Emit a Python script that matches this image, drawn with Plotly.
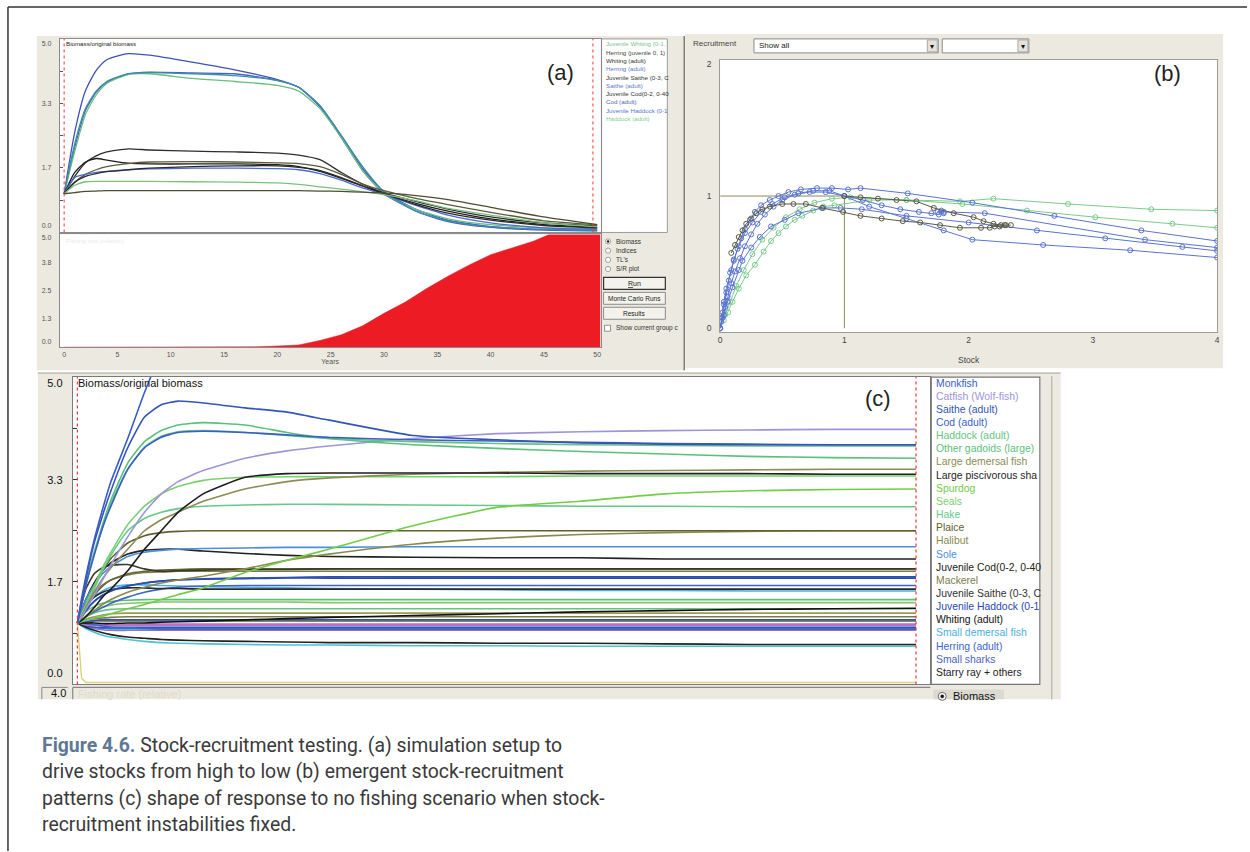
import plotly.graph_objects as go

W, H = 1250, 852
UI = "Liberation Sans, Arial, sans-serif"

# ================= DATA =================
# ---- panel (a): biomass / original biomass over 50 simulated years ----
a_years = [0, 1, 2, 3, 4, 6, 8, 12, 16, 20, 22, 24, 26, 28, 30, 33, 36, 40, 45, 50]
a_blue_top   = [1.0, 2.6, 3.66, 4.18, 4.46, 4.62, 4.58, 4.4, 4.2, 3.95, 3.75, 3.25, 2.5, 1.65, 1.05, 0.6, 0.32, 0.15, 0.08, 0.05]
a_blue_mid   = [1.0, 2.2, 3.15, 3.62, 3.88, 4.09, 4.14, 4.12, 4.1, 3.93, 3.75, 3.25, 2.45, 1.6, 1.0, 0.55, 0.28, 0.13, 0.06, 0.04]
a_green_mid  = [1.0, 2.1, 3.05, 3.55, 3.85, 4.08, 4.1, 3.98, 3.9, 3.8, 3.65, 3.2, 2.45, 1.6, 1.0, 0.6, 0.35, 0.2, 0.12, 0.1]
a_teal_mid   = [1.0, 2.3, 3.2, 3.65, 3.9, 4.1, 4.13, 4.1, 4.05, 3.92, 3.75, 3.28, 2.5, 1.7, 1.05, 0.55, 0.3, 0.15, 0.08, 0.06]
a_black_1    = [1.0, 1.45, 1.8, 1.98, 2.08, 2.16, 2.13, 2.1, 2.08, 2.05, 2.0, 1.88, 1.55, 1.25, 1.02, 0.8, 0.6, 0.4, 0.25, 0.17]
a_black_2    = [1.0, 1.55, 1.82, 1.91, 1.87, 1.79, 1.77, 1.77, 1.77, 1.75, 1.7, 1.58, 1.4, 1.2, 1.0, 0.75, 0.55, 0.35, 0.2, 0.13]
a_olive_1    = [1.0, 1.3, 1.5, 1.62, 1.7, 1.78, 1.82, 1.83, 1.82, 1.8, 1.78, 1.7, 1.5, 1.25, 1.08, 0.88, 0.72, 0.52, 0.3, 0.2]
a_blue_low   = [1.0, 1.42, 1.5, 1.55, 1.58, 1.62, 1.64, 1.66, 1.66, 1.65, 1.62, 1.52, 1.35, 1.15, 0.98, 0.7, 0.45, 0.25, 0.12, 0.08]
a_black_3    = [1.0, 1.3, 1.45, 1.52, 1.57, 1.62, 1.66, 1.7, 1.72, 1.72, 1.68, 1.6, 1.42, 1.2, 1.0, 0.72, 0.5, 0.32, 0.18, 0.12]
a_green_low  = [1.0, 1.22, 1.31, 1.32, 1.32, 1.32, 1.32, 1.31, 1.3, 1.28, 1.24, 1.18, 1.12, 1.05, 0.98, 0.82, 0.62, 0.45, 0.25, 0.15]
a_olive_flat = [1.0, 1.03, 1.06, 1.07, 1.08, 1.08, 1.08, 1.08, 1.08, 1.08, 1.08, 1.07, 1.06, 1.04, 1.02, 0.95, 0.85, 0.65, 0.4, 0.2]
a_fish_years = [0, 17, 18, 20, 22, 24, 26, 28, 30, 32, 34, 36, 38, 40, 42, 44, 45.5, 50.3]
a_fish_rate  = [0, 0, 0.02, 0.05, 0.1, 0.3, 0.55, 0.95, 1.5, 2.0, 2.6, 3.15, 3.65, 4.1, 4.4, 4.7, 5.0, 5.0]
a_marker_years = [0, 49.6]
a_legend = ["Juvenile Whiting (0-1,", "Herring (juvenile 0, 1)", "Whiting (adult)", "Herring (adult)",
            "Juvenile Saithe (0-3, C", "Saithe (adult)", "Juvenile Cod(0-2, 0-40", "Cod (adult)",
            "Juvenile Haddock (0-1", "Haddock (adult)"]
a_y_ticks = ["0.0", "1.7", "3.3", "5.0"]
a_f_ticks = ["0.0", "1.3", "2.5", "3.8", "5.0"]
a_x_ticks = [0, 5, 10, 15, 20, 25, 30, 35, 40, 45, 50]

# ---- panel (b): stock vs recruitment ----
b_stock_1 = [0, 0.01, 0.02, 0.03, 0.05, 0.07, 0.09, 0.11, 0.14, 0.17, 0.2, 0.24, 0.28, 0.33, 0.4, 0.47, 0.55, 0.65, 0.78, 0.9, 1.03, 1.13, 1.51, 2.03, 2.69, 3.39, 4.0]
b_rec_1   = [0, 0.05, 0.12, 0.18, 0.27, 0.36, 0.44, 0.51, 0.6, 0.68, 0.75, 0.82, 0.88, 0.93, 0.97, 1.0, 1.03, 1.05, 1.06, 1.06, 1.05, 1.06, 1.02, 0.95, 0.85, 0.74, 0.66]
b_stock_2 = [0, 0.02, 0.04, 0.06, 0.09, 0.12, 0.16, 0.2, 0.25, 0.3, 0.36, 0.43, 0.5, 0.6, 0.72, 0.85, 1.0, 1.15, 1.3, 1.45, 1.6, 1.7, 1.76, 1.8, 1.78, 1.75, 1.8, 2.13, 3.42, 4.0]
b_rec_2   = [0, 0.08, 0.16, 0.24, 0.34, 0.43, 0.53, 0.62, 0.71, 0.79, 0.86, 0.92, 0.97, 1.01, 1.03, 1.03, 1.0, 0.97, 0.93, 0.9, 0.88, 0.87, 0.86, 0.87, 0.89, 0.88, 0.88, 0.87, 0.67, 0.61]
b_stock_3 = [0, 0.03, 0.06, 0.1, 0.15, 0.18, 0.25, 0.32, 0.41, 0.52, 0.63, 0.83, 0.97, 1.14, 1.5, 2.0, 2.55, 3.1, 3.72, 4.0]
b_rec_3   = [0, 0.1, 0.2, 0.31, 0.44, 0.51, 0.61, 0.69, 0.77, 0.82, 0.87, 0.91, 0.91, 0.9, 0.85, 0.8, 0.74, 0.68, 0.615, 0.585]
b_stock_4 = [0, 0.01, 0.03, 0.05, 0.08, 0.11, 0.15, 0.2, 0.26, 0.33, 0.42, 0.52, 0.63, 0.75, 0.88, 1.0, 1.2, 1.5, 1.8, 2.03, 2.6, 3.3, 4.0]
b_rec_4   = [0, 0.08, 0.2, 0.3, 0.42, 0.52, 0.62, 0.72, 0.8, 0.88, 0.94, 0.99, 1.02, 1.04, 1.04, 1.0, 0.92, 0.83, 0.74, 0.67, 0.63, 0.59, 0.535]
b_stock_5 = [0, 0.03, 0.065, 0.1, 0.15, 0.21, 0.28, 0.35, 0.41, 0.47, 0.53, 0.6, 0.66, 0.75, 0.83, 0.92, 1.2, 1.5, 1.93, 2.2, 2.8, 3.47, 4.0]
b_rec_5   = [0, 0.06, 0.12, 0.2, 0.3, 0.4, 0.48, 0.58, 0.66, 0.72, 0.77, 0.82, 0.85, 0.89, 0.92, 0.93, 0.97, 0.97, 0.96, 0.98, 0.94, 0.9, 0.89]
b_stock_6 = [0, 0.04, 0.08, 0.13, 0.19, 0.26, 0.34, 0.43, 0.53, 0.64, 0.76, 0.9, 1.05, 1.5, 1.95, 2.47, 3.02, 3.64, 4.0]
b_rec_6   = [0, 0.1, 0.2, 0.32, 0.44, 0.56, 0.67, 0.76, 0.84, 0.9, 0.95, 0.98, 0.99, 0.97, 0.94, 0.89, 0.84, 0.79, 0.76]
b_stock_7 = [0.09, 0.12, 0.15, 0.18, 0.21, 0.25, 0.29, 0.34, 0.4, 0.5, 0.59, 0.69, 0.82, 0.99, 1.13, 1.3, 1.47, 1.61, 1.77, 1.93, 2.1, 2.17, 2.21, 2.25, 2.29, 2.34]
b_rec_7   = [0.57, 0.63, 0.69, 0.74, 0.79, 0.83, 0.87, 0.9, 0.92, 0.94, 0.94, 0.94, 0.91, 0.88, 0.85, 0.83, 0.81, 0.8, 0.78, 0.76, 0.76, 0.76, 0.77, 0.77, 0.78, 0.78]
b_stock_8 = [1.0, 1.13, 1.27, 1.42, 1.58, 1.72, 1.88, 2.04, 2.12, 2.2, 2.26, 2.3]
b_rec_8   = [1.0, 0.99, 0.98, 0.97, 0.96, 0.91, 0.87, 0.84, 0.81, 0.79, 0.78, 0.78]
b_ref_point = [1, 1]   # stock, recruitment of the reference cross-hair
b_x_ticks = [0, 1, 2, 3, 4]
b_y_ticks = [0, 1, 2]

# ---- panel (c): no-fishing run, 100 years ----
c_years = [0, 0.5, 1, 2, 3, 4, 6, 8, 10, 12, 15, 20, 25, 30, 40, 50, 60, 70, 80, 90, 100]
c_monkfish    = [1, 1.4, 1.75, 2.35, 2.85, 3.3, 4.0, 4.75, 5.4, 6.0, 6.8, 7.8, 8.5, 9, 9, 9, 9, 9, 9, 9, 9]
c_catfish     = [1, 1.1, 1.22, 1.45, 1.7, 1.95, 2.4, 2.8, 3.1, 3.3, 3.48, 3.68, 3.8, 3.88, 4.0, 4.08, 4.11, 4.13, 4.14, 4.15, 4.15]
c_saithe      = [1, 1.35, 1.7, 2.3, 2.75, 3.15, 3.85, 4.35, 4.55, 4.61, 4.58, 4.5, 4.43, 4.3, 4.05, 3.98, 3.93, 3.91, 3.9, 3.9, 3.9]
c_cod         = [1, 1.3, 1.6, 2.1, 2.55, 2.9, 3.5, 3.85, 4.02, 4.1, 4.12, 4.1, 4.06, 4.02, 3.98, 3.96, 3.94, 3.92, 3.91, 3.9, 3.9]
c_haddock     = [1, 1.32, 1.62, 2.12, 2.55, 2.95, 3.5, 3.86, 4.04, 4.11, 4.13, 4.1, 4.05, 4.0, 3.95, 3.92, 3.9, 3.89, 3.88, 3.88, 3.88]
c_othergad    = [1, 1.35, 1.65, 2.15, 2.6, 3.0, 3.6, 3.95, 4.13, 4.22, 4.26, 4.22, 4.1, 4.0, 3.9, 3.84, 3.79, 3.75, 3.71, 3.69, 3.68]
c_largedem    = [1, 1.12, 1.25, 1.5, 1.72, 1.9, 2.2, 2.5, 2.68, 2.8, 2.98, 3.18, 3.3, 3.36, 3.42, 3.45, 3.47, 3.48, 3.49, 3.5, 3.5]
c_largepisc   = [1, 1.04, 1.1, 1.25, 1.42, 1.55, 1.85, 2.2, 2.5, 2.8, 3.1, 3.37, 3.43, 3.44, 3.44, 3.44, 3.43, 3.43, 3.43, 3.42, 3.42]
c_spurdog     = [1, 1.02, 1.04, 1.08, 1.11, 1.15, 1.23, 1.3, 1.38, 1.46, 1.57, 1.82, 2.02, 2.2, 2.58, 2.88, 2.98, 3.1, 3.15, 3.17, 3.18]
c_seals       = [1, 1.15, 1.3, 1.6, 1.9, 2.15, 2.6, 2.9, 3.1, 3.22, 3.32, 3.37, 3.38, 3.38, 3.38, 3.38, 3.39, 3.39, 3.39, 3.39, 3.39]
c_hake        = [1, 1.12, 1.25, 1.55, 1.85, 2.1, 2.5, 2.7, 2.8, 2.86, 2.9, 2.92, 2.93, 2.93, 2.92, 2.91, 2.9, 2.9, 2.89, 2.89, 2.89]
c_plaice      = [1, 1.15, 1.3, 1.6, 1.85, 2.05, 2.3, 2.42, 2.47, 2.49, 2.5, 2.5, 2.5, 2.5, 2.5, 2.5, 2.5, 2.5, 2.5, 2.5, 2.5]
c_halibut     = [1, 1.05, 1.1, 1.2, 1.3, 1.38, 1.5, 1.58, 1.65, 1.7, 1.76, 1.88, 2.02, 2.12, 2.28, 2.38, 2.44, 2.47, 2.49, 2.5, 2.5]
c_sole        = [1, 1.2, 1.38, 1.62, 1.8, 1.92, 2.08, 2.15, 2.18, 2.2, 2.21, 2.22, 2.23, 2.23, 2.24, 2.24, 2.24, 2.24, 2.24, 2.24, 2.24]
c_juvcod      = [1, 1.2, 1.38, 1.65, 1.85, 1.98, 2.12, 2.18, 2.2, 2.2, 2.17, 2.13, 2.1, 2.08, 2.07, 2.06, 2.06, 2.04, 2.04, 2.04, 2.04]
c_mackerel    = [1, 1.15, 1.3, 1.5, 1.62, 1.7, 1.78, 1.82, 1.83, 1.84, 1.84, 1.84, 1.84, 1.84, 1.84, 1.84, 1.84, 1.84, 1.84, 1.84, 1.84]
c_juvsaithe   = [1, 1.3, 1.55, 1.8, 1.9, 1.94, 1.95, 1.88, 1.84, 1.85, 1.86, 1.87, 1.87, 1.88, 1.88, 1.88, 1.88, 1.88, 1.88, 1.88, 1.88]
c_juvhaddock  = [1, 1.1, 1.2, 1.35, 1.45, 1.52, 1.6, 1.65, 1.68, 1.7, 1.71, 1.72, 1.73, 1.73, 1.73, 1.73, 1.73, 1.73, 1.73, 1.73, 1.73]
c_whiting     = [1, 1.0, 1.0, 1.0, 0.99, 0.99, 1.0, 1.0, 1.01, 1.02, 1.03, 1.05, 1.07, 1.09, 1.12, 1.15, 1.18, 1.2, 1.22, 1.23, 1.24]
c_smalldem    = [1, 1.12, 1.25, 1.42, 1.52, 1.58, 1.62, 1.62, 1.61, 1.6, 1.59, 1.58, 1.57, 1.56, 1.55, 1.54, 1.53, 1.53, 1.52, 1.52, 1.52]
c_herring     = [1, 1.05, 1.1, 1.18, 1.25, 1.32, 1.42, 1.5, 1.55, 1.58, 1.6, 1.61, 1.61, 1.61, 1.61, 1.61, 1.61, 1.61, 1.61, 1.61, 1.61]
c_smallsharks = [1, 1.0, 0.99, 0.97, 0.95, 0.93, 0.92, 0.91, 0.9, 0.9, 0.9, 0.9, 0.9, 0.9, 0.9, 0.9, 0.9, 0.9, 0.9, 0.9, 0.9]
c_starry      = [1, 0.96, 0.93, 0.88, 0.84, 0.81, 0.77, 0.75, 0.73, 0.72, 0.71, 0.7, 0.69, 0.68, 0.68, 0.67, 0.67, 0.66, 0.65, 0.65, 0.65]
c_tusk        = [1, 0.95, 0.91, 0.85, 0.8, 0.77, 0.73, 0.7, 0.68, 0.67, 0.66, 0.65, 0.64, 0.64, 0.63, 0.63, 0.62, 0.62, 0.62, 0.62, 0.62]
c_group_g1    = [1, 1.1, 1.18, 1.27, 1.32, 1.35, 1.37, 1.38, 1.38, 1.38, 1.38, 1.38, 1.38, 1.38, 1.38, 1.38, 1.38, 1.38, 1.38, 1.38, 1.38]
c_group_g2    = [1, 1.06, 1.12, 1.2, 1.26, 1.29, 1.32, 1.33, 1.34, 1.34, 1.34, 1.34, 1.34, 1.33, 1.33, 1.33, 1.33, 1.33, 1.33, 1.33, 1.33]
c_group_g3    = [1, 1.05, 1.1, 1.16, 1.2, 1.22, 1.23, 1.23, 1.23, 1.23, 1.23, 1.23, 1.23, 1.23, 1.23, 1.23, 1.23, 1.23, 1.23, 1.23, 1.23]
c_group_o1    = [1, 1.03, 1.05, 1.07, 1.08, 1.09, 1.1, 1.1, 1.1, 1.1, 1.1, 1.1, 1.1, 1.1, 1.1, 1.1, 1.1, 1.1, 1.1, 1.1, 1.1]
c_group_o4    = [1, 1.03, 1.06, 1.1, 1.13, 1.15, 1.16, 1.16, 1.16, 1.16, 1.16, 1.16, 1.16, 1.16, 1.16, 1.16, 1.16, 1.16, 1.16, 1.16, 1.16]
c_group_b3    = [1, 1.01, 1.02, 1.04, 1.05, 1.05, 1.05, 1.05, 1.05, 1.05, 1.05, 1.05, 1.05, 1.05, 1.05, 1.05, 1.05, 1.05, 1.05, 1.05, 1.05]
c_group_p1    = [1, 0.99, 0.98, 0.97, 0.97, 0.97, 0.97, 0.98, 0.98, 0.98, 0.98, 0.98, 0.98, 0.98, 0.98, 0.98, 0.98, 0.98, 0.98, 0.98, 0.98]
c_group_p3    = [1, 0.98, 0.97, 0.96, 0.96, 0.96, 0.96, 0.96, 0.96, 0.96, 0.96, 0.96, 0.96, 0.96, 0.96, 0.96, 0.96, 0.96, 0.96, 0.96, 0.96]
c_group_t1    = [1, 0.98, 0.97, 0.96, 0.95, 0.95, 0.95, 0.95, 0.95, 0.95, 0.95, 0.95, 0.95, 0.95, 0.95, 0.95, 0.95, 0.95, 0.95, 0.95, 0.95]
c_group_b1    = [1, 0.97, 0.95, 0.93, 0.92, 0.92, 0.92, 0.92, 0.92, 0.92, 0.92, 0.92, 0.92, 0.92, 0.92, 0.92, 0.92, 0.92, 0.92, 0.92, 0.92]
c_group_c1    = [1, 0.98, 0.96, 0.93, 0.91, 0.9, 0.9, 0.9, 0.9, 0.9, 0.9, 0.9, 0.9, 0.9, 0.9, 0.9, 0.9, 0.9, 0.9, 0.9, 0.9]
c_group_p2    = [1, 0.97, 0.94, 0.91, 0.89, 0.88, 0.88, 0.88, 0.88, 0.88, 0.88, 0.88, 0.88, 0.88, 0.88, 0.88, 0.88, 0.88, 0.88, 0.88, 0.88]
c_group_o2    = [1, 1.01, 1.02, 1.03, 1.03, 1.03, 1.03, 1.03, 1.03, 1.03, 1.03, 1.03, 1.03, 1.03, 1.03, 1.03, 1.03, 1.03, 1.03, 1.03, 1.03]
c_group_k1    = [1, 1.15, 1.28, 1.42, 1.5, 1.54, 1.57, 1.57, 1.56, 1.56, 1.55, 1.55, 1.55, 1.55, 1.55, 1.55, 1.55, 1.55, 1.55, 1.55, 1.55]
c_group_b2    = [1, 1.1, 1.2, 1.35, 1.45, 1.52, 1.6, 1.65, 1.68, 1.7, 1.72, 1.73, 1.74, 1.75, 1.75, 1.75, 1.75, 1.75, 1.75, 1.75, 1.75]
c_group_o3    = [1, 1.12, 1.25, 1.45, 1.6, 1.7, 1.8, 1.84, 1.86, 1.87, 1.88, 1.88, 1.88, 1.88, 1.88, 1.88, 1.88, 1.88, 1.88, 1.88, 1.88]
c_fishing     = [1, 0.1, 0.03, 0.03, 0.03, 0.03, 0.03, 0.03, 0.03, 0.03, 0.03, 0.03, 0.03, 0.03, 0.03, 0.03, 0.03, 0.03, 0.03, 0.03, 0.03]
c_marker_years = [0, 100]
c_legend = ["Monkfish", "Catfish (Wolf-fish)", "Saithe (adult)", "Cod (adult)", "Haddock (adult)",
            "Other gadoids (large)", "Large demersal fish", "Large piscivorous sha", "Spurdog", "Seals",
            "Hake", "Plaice", "Halibut", "Sole", "Juvenile Cod(0-2, 0-40", "Mackerel",
            "Juvenile Saithe (0-3, C", "Juvenile Haddock (0-1", "Whiting (adult)", "Small demersal fish",
            "Herring (adult)", "Small sharks", "Starry ray + others"]
c_y_ticks = ["0.0", "1.7", "3.3", "5.0"]

caption_lines = [
    "<b><span style='color:#5d7995'>Figure 4.6.</span></b> Stock-recruitment testing. (a) simulation setup to",
    "drive stocks from high to low (b) emergent stock-recruitment",
    "patterns (c) shape of response to no fishing scenario when stock-",
    "recruitment instabilities fixed.",
]

# ================= STYLES =================
a_series = [
    (a_blue_top, "#3d52b6"), (a_blue_mid, "#4a5fc4"), (a_green_mid, "#6dbd7d"), (a_teal_mid, "#3b8fa8"),
    (a_black_1, "#2e2e2e"), (a_black_2, "#1e1e1e"), (a_olive_1, "#5b5b3c"), (a_blue_low, "#4b6ad0"),
    (a_black_3, "#2a2a2a"), (a_green_low, "#79c27a"), (a_olive_flat, "#4d4d33"),
]
a_legend_colors = ["#78c48a", "#444444", "#333333", "#6677cc", "#333333", "#6677cc", "#333333",
                   "#5566cc", "#5577cc", "#88cc99"]
b_series = [
    (b_stock_6, b_rec_6, "#7acb8c"), (b_stock_5, b_rec_5, "#7acb8c"),
    (b_stock_3, b_rec_3, "#5a74d0"), (b_stock_4, b_rec_4, "#5a74d0"),
    (b_stock_2, b_rec_2, "#5a74d0"), (b_stock_1, b_rec_1, "#5a74d0"),
    (b_stock_7, b_rec_7, "#5a5a48"), (b_stock_8, b_rec_8, "#5a5a48"),
]
c_series = [
    (c_group_p2, "#9a6fc8"), (c_group_c1, "#4ab8d8"), (c_group_b1, "#3352bd"), (c_group_t1, "#4aa3a0"),
    (c_group_p3, "#c070c8"), (c_group_p1, "#b46fd0"), (c_group_o2, "#8c8c4e"), (c_group_b3, "#2f4fb8"),
    (c_group_o1, "#7a7a44"), (c_group_o4, "#9a9a5a"), (c_group_g3, "#6cc080"),
    (c_tusk, "#4cc3d2"), (c_starry, "#222222"),
    (c_smallsharks, "#4a62c8"), (c_whiting, "#111111"), (c_group_g2, "#86c46e"), (c_group_g1, "#5cc070"),
    (c_smalldem, "#4ab0e0"), (c_herring, "#3a66cc"), (c_group_k1, "#2a2a2a"), (c_juvhaddock, "#2a48b0"),
    (c_group_b2, "#2a50b0"), (c_mackerel, "#7c7c4a"), (c_group_o3, "#66663a"), (c_juvsaithe, "#3a3a2a"),
    (c_juvcod, "#222222"), (c_sole, "#4a8ede"), (c_halibut, "#8a8a4e"), (c_plaice, "#60602e"),
    (c_hake, "#66c98a"), (c_spurdog, "#72cc48"), (c_seals, "#7ad070"), (c_largedem, "#8c8c55"),
    (c_largepisc, "#1e1e1e"), (c_catfish, "#9e94d8"), (c_othergad, "#5cc07a"), (c_haddock, "#66c280"),
    (c_cod, "#3b5fc8"), (c_saithe, "#3354b8"), (c_monkfish, "#3a5cc8"),
]
c_legend_colors = ["#3a5cc8", "#9e94d8", "#3354b8", "#3b5fc8", "#66c280", "#5cc07a", "#8c8c55",
                   "#1e1e1e", "#72cc48", "#7ad070", "#66c98a", "#60602e", "#8a8a4e", "#4a8ede",
                   "#222222", "#7c7c4a", "#333333", "#2a48b0", "#111111", "#4ab0e0", "#3a66cc",
                   "#4a62c8", "#222222"]

WIN = "#ECEAE0"


def X(px):
    return px / W


def Y(py):
    return 1 - py / H


shapes = []
annotations = []


def rect(x0, y0, x1, y1, fill, line=None, width=1.0):
    shapes.append(dict(type="rect", xref="paper", yref="paper", x0=X(x0), x1=X(x1), y0=Y(y1), y1=Y(y0),
                       fillcolor=fill, line=dict(color=line if line else fill, width=width if line else 0),
                       layer="below"))


def circ(cx, cy, r, fill, line="#555", width=1.0):
    shapes.append(dict(type="circle", xref="paper", yref="paper", x0=X(cx - r), x1=X(cx + r),
                       y0=Y(cy + r), y1=Y(cy - r), fillcolor=fill, line=dict(color=line, width=width),
                       layer="below"))


def hline(x0, x1, y, color, width=1.0):
    shapes.append(dict(type="line", xref="paper", yref="paper", x0=X(x0), x1=X(x1), y0=Y(y), y1=Y(y),
                       line=dict(color=color, width=width), layer="below"))


def vline(x, y0, y1, color, width=1.0):
    shapes.append(dict(type="line", xref="paper", yref="paper", x0=X(x), x1=X(x), y0=Y(y0), y1=Y(y1),
                       line=dict(color=color, width=width), layer="below"))


def text(x, y, s, size=10, color="#111", xa="left", ya="middle", family=UI):
    annotations.append(dict(xref="paper", yref="paper", x=X(x), y=Y(y), text=s, showarrow=False,
                            xanchor=xa, yanchor=ya, font=dict(family=family, size=size, color=color)))


# ---------- outer frame ----------
hline(6, 1250, 6, "#333333", 1.5)
vline(6, 6, 852, "#333333", 1.5)

# ---------- window backgrounds ----------
rect(35, 35, 685, 370, WIN)
vline(685, 35, 370, "#7d7d74", 1.5)
rect(686, 33, 1226, 368, WIN)
rect(36, 372, 1063, 700, WIN)
hline(36, 1063, 373, "#a8a89c", 1)
vline(1054, 376, 700, "#a8a89c", 1)

# plot areas (white)
rect(58, 38, 601, 232, "white")
rect(58, 234, 601, 347, "white")
rect(721, 59, 1220, 332, "white")
rect(71, 377, 932, 685, "white")

# legend boxes
rect(602, 38, 668, 232, "white", "#9a9a9a", 1)
rect(933, 377, 1042, 685, "white", "#777777", 1.2)

# ---------- panel (a) controls ----------
radio_labels = ["Biomass", "Indices", "TL's", "S/R plot"]
for i, lab in enumerate(radio_labels):
    cy = 241 + i * 9.2
    circ(608.5, cy, 2.6, "white", "#888", 0.8)
    text(614, cy, lab, 6.5, "#333")
circ(608.5, 241, 1.0, "#111", "#111", 0.5)
rect(604, 277, 666, 289, "#F3F2EC", "#333333", 1.2)
text(635, 283, "<u>R</u>un", 7, "#222", "center")
rect(604, 292, 666, 304, "#F3F2EC", "#8a8a8a", 1)
text(635, 298, "Monte Carlo Runs", 6.5, "#222", "center")
rect(604, 307, 666, 319, "#F3F2EC", "#8a8a8a", 1)
text(635, 313, "Results", 6.5, "#222", "center")
rect(605, 325, 611, 331, "white", "#777", 0.8)
text(614, 328, "Show current group c", 6.5, "#333")

for i, lab in enumerate(a_legend):
    text(604, 43 + i * 8.3, lab, 6.2, a_legend_colors[i])
text(62, 43, "Biomass/original biomass", 6.2, "#222")
text(62, 240, "Fishing rate (relative)", 6.2, "#ebebeb")
text(561, 72, "(a)", 22, "#222", "center")

# ---------- panel (b) controls ----------
text(692, 43, "Recruitment", 8, "#444")
rect(755, 38, 940, 52, "white", "#8a8a8a", 1)
text(758, 45, "Show all", 8, "#222")
rect(929, 39, 939, 51, "#E4E2DA", "#999", 0.8)
text(934, 45.5, "\u25BE", 8, "#111", "center")
rect(944, 38, 1031, 52, "white", "#8a8a8a", 1)
rect(1020, 39, 1030, 51, "#E4E2DA", "#999", 0.8)
text(1025, 45.5, "\u25BE", 8, "#111", "center")
text(1170, 73, "(b)", 22, "#222", "center")

# ---------- panel (c) extras ----------
for i, lab in enumerate(c_legend):
    text(936, 383 + i * 13.18, lab, 10.4, c_legend_colors[i])
text(74, 383, "Biomass/original biomass", 11, "#111")
text(880, 398, "(c)", 22, "#222", "center")
hline(71, 932, 688, "#888", 1.2)
vline(71, 688, 700, "#888", 1.2)
hline(40, 66, 688, "#888", 1.0)
vline(40, 688, 700, "#888", 1.0)
text(66, 694, "4.0", 11, "#111", "right")
text(74, 695, "Fishing rate (relative)", 11, "#dedbc8")
rect(935, 690, 1006, 700, "#DCDAD0")
circ(944, 697, 4, "white", "#666", 1)
circ(944, 697, 1.6, "#111", "#111", 0.5)
text(953, 697, "Biomass", 11, "#111")

# ---------- caption ----------
for i, line in enumerate(caption_lines):
    text(38, 746 + i * 26.5, line, 19.4, "#3a3a3a", family="Roboto, sans-serif")

# ================= TRACES =================
fig = go.Figure()

# (a) top: biomass curves
for vals, col in a_series:
    fig.add_trace(go.Scatter(x=a_years, y=vals, mode="lines", line=dict(color=col, width=1.3, shape="spline", smoothing=0.6),
                             xaxis="x", yaxis="y", hoverinfo="skip", showlegend=False))
# (a) bottom: fishing rate
fig.add_trace(go.Scatter(x=a_fish_years, y=a_fish_rate, mode="lines", fill="tozeroy", fillcolor="#ED1C24",
                         line=dict(color="#ED1C24", width=0.5), xaxis="x2", yaxis="y2", hoverinfo="skip", showlegend=False))

# (b) stock-recruitment
for s, r, col in b_series:
    fig.add_trace(go.Scatter(x=s, y=r, mode="lines+markers", line=dict(color=col, width=1),
                             marker=dict(symbol="circle-open", size=5, color=col, line=dict(width=1)),
                             xaxis="x3", yaxis="y3", hoverinfo="skip", showlegend=False, cliponaxis=True))

# (c) no-fishing curves
for vals, col in c_series:
    fig.add_trace(go.Scatter(x=c_years, y=vals, mode="lines", line=dict(color=col, width=1.6, shape="spline", smoothing=0.5),
                             xaxis="x4", yaxis="y4", hoverinfo="skip", showlegend=False))
fig.add_trace(go.Scatter(x=c_years, y=c_fishing, mode="lines", line=dict(color="#d9d27a", width=1.4),
                         xaxis="x4", yaxis="y4", hoverinfo="skip", showlegend=False))

# reference markers (dashed red year markers, crosshair in b)
for yr in a_marker_years:
    shapes.append(dict(type="line", xref="x", yref="y domain", x0=yr, x1=yr, y0=0, y1=1,
                       line=dict(color="#ff3333", width=1, dash="dot"), layer="above"))
for yr in c_marker_years:
    shapes.append(dict(type="line", xref="x4", yref="y4 domain", x0=yr, x1=yr, y0=0, y1=1,
                       line=dict(color="#ff3333", width=1.2, dash="dot"), layer="above"))
shapes.append(dict(type="line", xref="x3", yref="y3", x0=0, x1=b_ref_point[0], y0=b_ref_point[1], y1=b_ref_point[1],
                   line=dict(color="#8c8c5c", width=1), layer="below"))
shapes.append(dict(type="line", xref="x3", yref="y3", x0=b_ref_point[0], x1=b_ref_point[0], y0=0, y1=b_ref_point[1],
                   line=dict(color="#8c8c5c", width=1), layer="below"))

axis_base = dict(showgrid=False, zeroline=False, showline=True, mirror=True, linecolor="#8a8a8a", linewidth=1)

fig.update_layout(
    width=W, height=H, autosize=False,
    margin=dict(l=0, r=0, t=0, b=0),
    paper_bgcolor="white", plot_bgcolor="white",
    showlegend=False,
    shapes=shapes, annotations=annotations,
    xaxis=dict(axis_base, domain=[X(58), X(601)], range=[-0.41, 50.32], showticklabels=False, ticks="", anchor="y"),
    yaxis=dict(axis_base, domain=[Y(232), Y(38)], range=[0, 5], tickvals=[0.18, 1.67, 3.33, 4.87], ticktext=a_y_ticks,
               ticks="", tickfont=dict(family=UI, size=7, color="#555"), ticklabelstandoff=6, anchor="x",
               minor=dict(tickmode="array", tickvals=[0.83, 1.67, 2.5, 3.33, 4.17], ticks="inside", ticklen=3, tickcolor="#555")),
    xaxis2=dict(axis_base, domain=[X(58), X(601)], range=[-0.41, 50.32], tickvals=a_x_ticks, ticks="",
                tickfont=dict(family=UI, size=7, color="#555"), anchor="y2",
                title=dict(text="Years", font=dict(family=UI, size=7, color="#555"), standoff=1)),
    yaxis2=dict(axis_base, domain=[Y(347), Y(234)], range=[0, 5], tickvals=[0.25, 1.26, 2.49, 3.74, 4.88],
                ticktext=a_f_ticks, ticks="", tickfont=dict(family=UI, size=7, color="#555"), ticklabelstandoff=6,
                anchor="x2"),
    xaxis3=dict(axis_base, domain=[X(721), X(1220)], range=[0, 4], tickvals=b_x_ticks, ticks="",
                tickfont=dict(family=UI, size=8.5, color="#444"), anchor="y3", linecolor="#9a9a90",
                title=dict(text="Stock", font=dict(family=UI, size=8.5, color="#444"), standoff=12)),
    yaxis3=dict(axis_base, domain=[Y(332), Y(59)], range=[-0.03, 2.03], tickvals=b_y_ticks, ticks="",
                tickfont=dict(family=UI, size=8.5, color="#444"), ticklabelstandoff=6, anchor="x3", linecolor="#9a9a90"),
    xaxis4=dict(axis_base, domain=[X(71), X(932)], range=[-0.558, 101.7], showticklabels=False, ticks="", anchor="y4",
                linecolor="#7a7a7a"),
    yaxis4=dict(axis_base, domain=[Y(685), Y(377)], range=[0, 5], tickvals=[0.18, 1.67, 3.33, 4.9], ticktext=c_y_ticks,
                ticks="", tickfont=dict(family=UI, size=11, color="#111"), ticklabelstandoff=7, anchor="x4",
                linecolor="#7a7a7a",
                minor=dict(tickmode="array", tickvals=[0.83, 1.67, 2.5, 3.33, 4.17], ticks="inside", ticklen=4, tickcolor="#333")),
)

fig.write_html("out.html")
